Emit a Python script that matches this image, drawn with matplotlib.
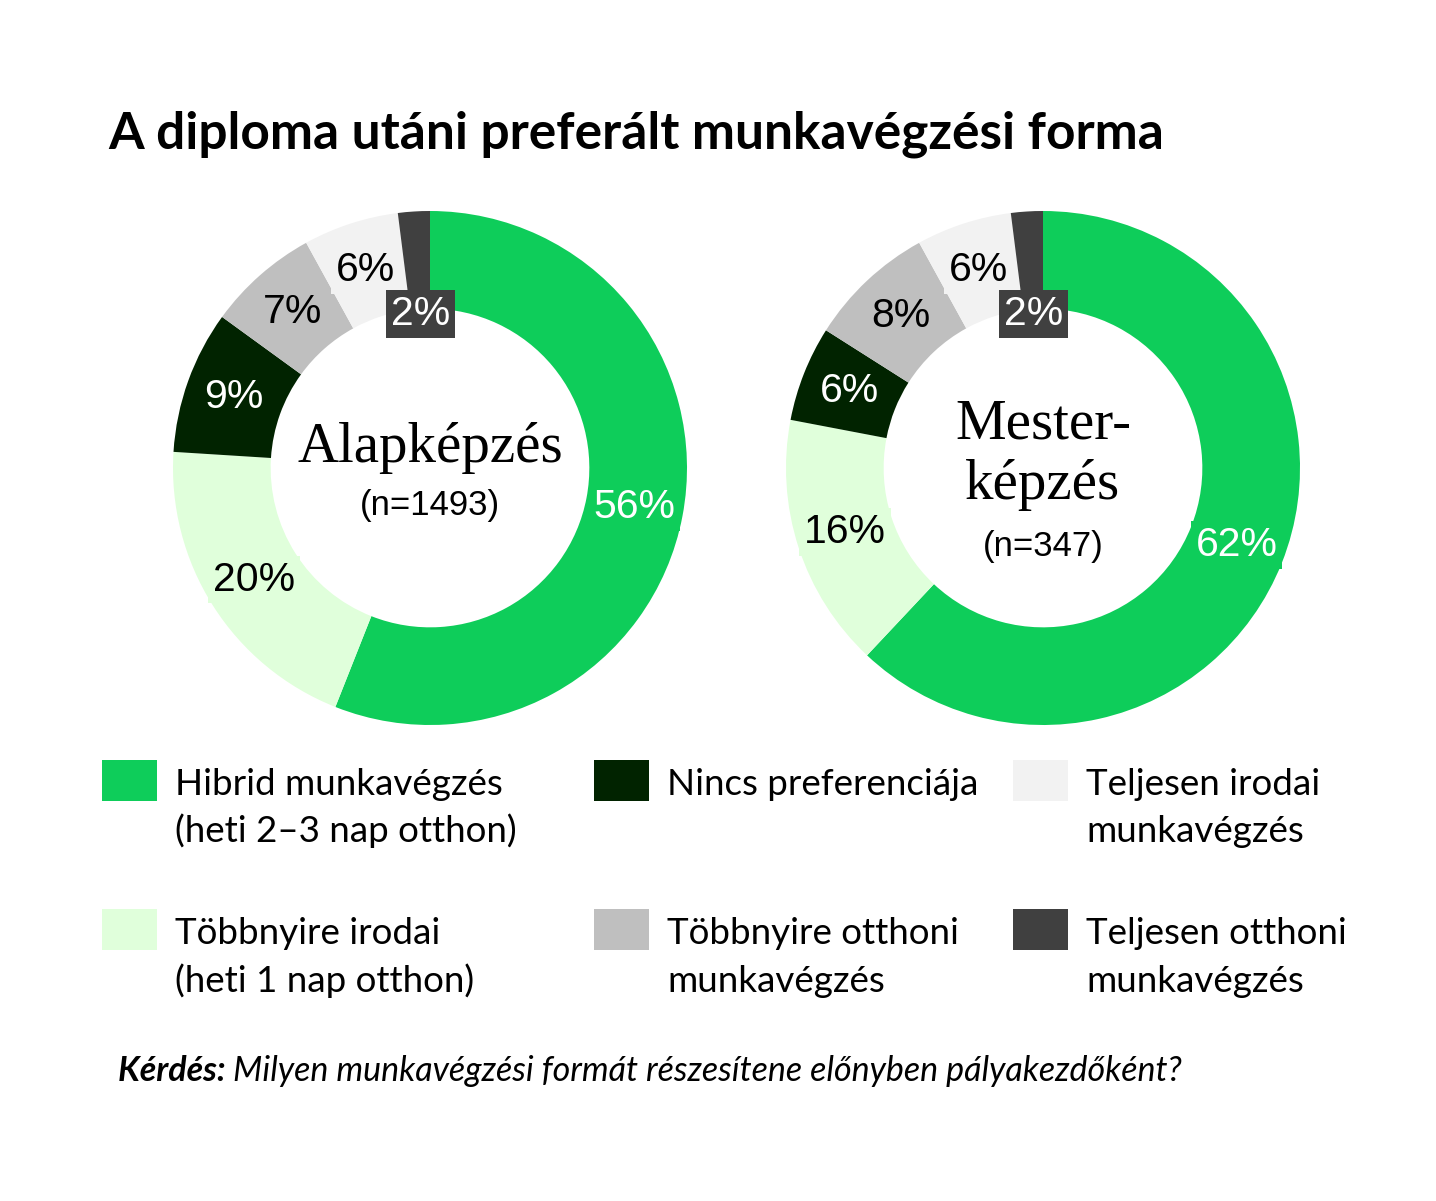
import math
import matplotlib
matplotlib.use("Agg")
import matplotlib.pyplot as plt
from matplotlib.patches import Rectangle

W, H = 1436, 1201

categories = [
    "Hibrid munkavégzés\n(heti 2–3 nap otthon)",
    "Többnyire irodai\n(heti 1 nap otthon)",
    "Nincs preferenciája",
    "Többnyire otthoni\nmunkavégzés",
    "Teljesen irodai\nmunkavégzés",
    "Teljesen otthoni\nmunkavégzés",
]
alap_values = [56, 20, 9, 7, 6, 2]
mester_values = [62, 16, 6, 8, 6, 2]
colors = ["#0ecd5a", "#e0ffdb", "#012300", "#bfbfbf", "#f2f2f2", "#404040"]
text_colors = ["white", "black", "white", "black", "black", "white"]

title = "A diploma utáni preferált munkavégzési forma"
note_bold = "Kérdés:"
note_text = "Milyen munkavégzési formát részesítene előnyben pályakezdőként?"

SANS = "Lato"
PCT_FONT = "Liberation Sans"
SERIF = "Liberation Serif"


def fx(px):
    return px / W


def fy(py):
    return 1 - py / H


fig = plt.figure(figsize=(W / 100, H / 100), dpi=100)
fig.patch.set_facecolor("white")

R = 257
hole = 0.62


def donut(cx, cy, values):
    ax = fig.add_axes([fx(cx - R), fy(cy + R), 2 * R / W, 2 * R / H])
    ax.pie(values, colors=colors, startangle=90, counterclock=False,
           wedgeprops=dict(width=1 - hole, edgecolor="none", linewidth=0))
    ax.set_xlim(-1, 1)
    ax.set_ylim(-1, 1)
    ax.set_aspect("equal")
    ax.axis("off")
    # percentage labels in the middle of each ring segment
    start = 90.0
    total = sum(values)
    for v, c, tc in zip(values, colors, text_colors):
        span = 360.0 * v / total
        mid = math.radians(start - span / 2)
        start -= span
        r = (1 + hole) / 2 if v >= 3 else 0.6
        ax.text(r * math.cos(mid), r * math.sin(mid), f"{v}%",
                ha="center", va="center", fontsize=29.5, family=PCT_FONT,
                color=tc, zorder=5,
                bbox=dict(boxstyle="square,pad=0.12", fc=c, ec="none"))
    return ax


ax1 = donut(430, 468, alap_values)
ax2 = donut(1043, 468, mester_values)

# centre captions
ax1.text(0, 6 / R, "Alapképzés", ha="center", va="baseline",
         family=SERIF, fontsize=41)
ax1.text(0, -47 / R, "(n=1493)", ha="center", va="baseline",
         family=PCT_FONT, fontsize=25)
ax2.text(0, 30 / R, "Mester-", ha="center", va="baseline",
         family=SERIF, fontsize=41)
ax2.text(0, -31 / R, "képzés", ha="center", va="baseline",
         family=SERIF, fontsize=41)
ax2.text(0, -88 / R, "(n=347)", ha="center", va="baseline",
         family=PCT_FONT, fontsize=25)

# title
fig.text(fx(108), fy(148), title, ha="left", va="baseline",
         family=SANS, fontweight="bold", fontsize=37)

# legend, laid out as three columns by two rows
col_x = [102, 594, 1013]
row_y = [760, 909]
box_w, box_h = 55, 41
line_h = 47.5
for i, (label, c) in enumerate(zip(categories, colors)):
    col, row = i // 2, i % 2
    x0, y0 = col_x[col], row_y[row]
    fig.add_artist(Rectangle((fx(x0), fy(y0 + box_h)), box_w / W, box_h / H,
                             transform=fig.transFigure, fc=c, ec="none"))
    for k, line in enumerate(label.split("\n")):
        fig.text(fx(x0 + 73), fy(y0 + 35 + k * line_h), line, ha="left",
                 va="baseline", family=SANS, fontsize=26.5)

# question note
t = fig.text(fx(118), fy(1081), note_bold + " ", ha="left", va="baseline",
             family=SANS, fontsize=24.5, fontweight="bold", style="italic")
fig.canvas.draw()
bb = t.get_window_extent()
fig.text(bb.x1 / W, fy(1081), note_text, ha="left", va="baseline",
         family=SANS, fontsize=24.5, style="italic")

fig.savefig("out.png", dpi=100, facecolor="white")
